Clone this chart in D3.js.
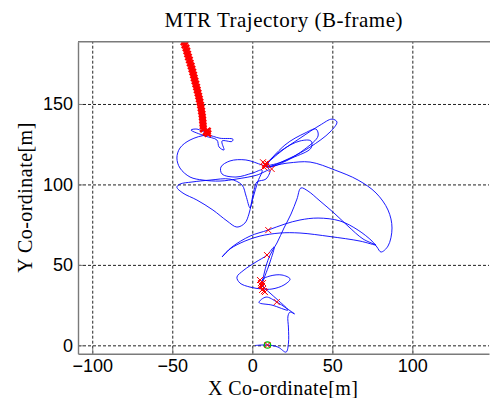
<!DOCTYPE html>
<html>
<head>
<meta charset="utf-8">
<script src="https://cdn.jsdelivr.net/npm/d3@7"></script>
<style>
    body { margin: 0; background: #fff; }
</style>
</head>
<body>
<script>
    const WIDTH = 490, HEIGHT = 398;
    const LEFT = 78, RIGHT = 489, TOP = 41.7, BOTTOM = 353.7;

    const AXIS_COLOR = '#7a7a7a';
    const GRID_COLOR = '#222';
    const LINE_COLOR = '#0000ff';
    const MARK_COLOR = '#ff0000';
    const START_COLOR = '#00c000';

    const X_DOMAIN = [-108.9, 147.9];
    const Y_DOMAIN = [-5.2, 188.7];
    const X_TICKS = [-100, -50, 0, 50, 100];
    const Y_TICKS = [0, 50, 100, 150];

    const TITLE = 'MTR Trajectory (B-frame)';
    const X_LABEL = 'X Co-ordinate[m]';
    const Y_LABEL = 'Y Co-ordinate[m]';

    // estimated vehicle positions [x, y] in metres, start -> end
    const trajectory = [
        [1.7, -0.1], [6.1, 0.2], [9.8, 0.2], [16.1, -1.1], [21.1, -4.2], [22.6, 1.4],
        [22.6, 10.8], [22.3, 18.2], [23.6, 20.7], [26.4, 19.5], [21.1, 23.2], [15.4, 26.9],
        [8.6, 30.0], [4.2, 26.6], [12.3, 25.0], [22.3, 21.9], [16.7, 27.5], [10.4, 33.1],
        [6.7, 36.9], [6.1, 40.6], [11.1, 43.1], [18.6, 43.7], [23.6, 41.2], [19.8, 37.5],
        [12.3, 35.0], [6.1, 35.0], [-1.4, 36.2], [-7.7, 38.7], [-9.6, 42.4], [-5.2, 46.8],
        [2.3, 51.8], [9.2, 56.1], [13.6, 61.1], [11.1, 51.8], [7.9, 43.1], [6.1, 38.1],
        [8.6, 49.3], [11.1, 56.1], [15.4, 63.6], [19.8, 72.9], [24.2, 81.6], [27.9, 90.9],
        [30.4, 97.8], [34.8, 95.9], [42.3, 89.7], [51.1, 82.2], [59.8, 74.1], [69.2, 66.1],
        [77.3, 62.3], [67.3, 64.8], [48.6, 67.6], [29.8, 69.8], [17.3, 69.8], [4.8, 67.9],
        [-4.6, 64.8], [-13.9, 59.9], [-18.9, 54.9], [-12.7, 61.1], [-1.4, 67.9], [9.8, 71.6],
        [20.4, 75.4], [29.8, 77.9], [41.1, 79.1], [54.8, 77.3], [66.1, 71.6], [74.8, 64.8],
        [77.9, 61.1], [80.4, 58.0], [84.8, 61.7], [87.3, 72.9], [84.8, 84.1], [77.3, 94.7],
        [66.1, 102.7], [51.7, 108.9], [36.1, 113.9], [22.3, 113.3], [8.6, 111.4],
        [17.3, 120.0], [29.8, 128.7], [42.3, 136.8], [49.8, 140.6], [52.9, 138.8], [48.6, 132.6],
        [36.1, 123.2], [22.3, 115.8], [8.6, 110.8], [20.4, 124.5], [32.9, 131.9], [39.8, 134.4],
        [41.1, 130.1], [32.9, 122.0], [20.4, 114.6], [8.6, 112.1], [18.6, 121.4], [29.8, 127.0],
        [36.7, 127.0], [36.7, 122.6], [24.8, 116.4], [11.1, 110.8],
        [6.1, 112.1], [-4.0, 115.2], [-13.9, 114.6], [-19.6, 110.8], [-18.9, 106.5], [-10.2, 104.6],
        [0.2, 107.1], [6.1, 108.9], [3.6, 102.1], [0.4, 91.5], [-1.4, 85.4], [-3.9, 92.8],
        [-6.4, 99.6], [-13.9, 103.3], [-26.4, 102.7], [-37.7, 101.5], [-45.2, 100.2], [-47.1, 98.3],
        [-43.3, 94.6], [-34.6, 90.3], [-24.6, 84.1], [-15.8, 77.3], [-9.6, 73.5], [-4.6, 76.0],
        [-2.1, 81.6], [-0.8, 87.2], [1.1, 96.5], [2.9, 101.5], [8.6, 103.4], [11.1, 109.0],
        [2.9, 105.8], [-9.6, 103.4], [-20.2, 102.1], [-30.8, 102.7], [-38.9, 104.6], [-45.2, 110.2],
        [-47.1, 116.4], [-45.2, 122.6], [-38.9, 127.6], [-28.3, 130.6],
        [-20.2, 128.7], [-12.1, 128.1], [-12.7, 126.7], [-18.9, 127.0], [-17.7, 121.4], [-20.8, 123.3],
        [-22.1, 127.6], [-29.6, 130.1], [-38.3, 133.8], [-34.6, 134.4], [-29.0, 132.0],
        [-31.9, 135.0], [-32.3, 141.3], [-33.0, 149.0], [-34.1, 156.0], [-35.6, 163.5],
        [-37.5, 171.0], [-39.8, 178.5], [-42.3, 185.5], [-44.2, 190.0]
    ];

    // dense estimates along the final leg
    const trailMarks = [
        [-42.7, 188.5], [-42.1, 186.6], [-41.4, 184.8], [-40.9, 182.9], [-40.4, 181.0],
        [-39.9, 179.2], [-39.3, 177.3], [-38.8, 175.4], [-38.2, 173.6], [-37.7, 171.7],
        [-37.2, 169.9], [-36.7, 168.0], [-36.3, 166.1], [-35.8, 164.3], [-35.3, 162.4],
        [-34.8, 160.5], [-34.4, 158.7], [-33.9, 156.8], [-33.5, 154.9], [-33.1, 153.1],
        [-32.7, 151.2], [-32.3, 149.3], [-32.0, 147.5], [-31.7, 145.6], [-31.4, 143.7],
        [-31.2, 141.9], [-31.0, 140.0], [-30.8, 138.2], [-30.7, 136.3], [-30.6, 134.4],
        [-28.9, 132.6], [-27.7, 131.6], [-28.0, 133.2]
    ];

    // other estimates along the way
    const stopMarks = [
        [6.7, 113.8], [7.9, 112.1], [9.2, 113.3], [7.3, 110.8], [8.6, 111.4], [8.0, 112.8],
        [12.1, 109.6], [9.2, 56.1], [10.0, 71.6], [15.3, 26.9],
        [4.8, 40.6], [5.4, 38.7], [6.1, 36.9], [6.7, 35.0], [7.3, 33.7], [5.4, 37.5],
        [6.7, 38.7], [6.1, 34.4], [7.9, 33.1], [9.5, 0.2]
    ];

    const start = [9.5, 0.2];

    const svg = d3.select('body').append('svg')
        .attr('width', WIDTH)
        .attr('height', HEIGHT);

    const x = d3.scaleLinear().domain(X_DOMAIN).range([LEFT, RIGHT]);
    const y = d3.scaleLinear().domain(Y_DOMAIN).range([BOTTOM, TOP]);

    svg.append('clipPath').attr('id', 'plot-clip')
        .append('rect')
        .attr('x', LEFT).attr('y', TOP)
        .attr('width', RIGHT - LEFT).attr('height', BOTTOM - TOP);

    // grid
    const gridX = svg.append('g')
        .attr('transform', 'translate(0,' + BOTTOM + ')')
        .call(d3.axisBottom(x).tickValues(X_TICKS).tickSize(-(BOTTOM - TOP)).tickFormat(''));
    const gridY = svg.append('g')
        .attr('transform', 'translate(' + LEFT + ',0)')
        .call(d3.axisLeft(y).tickValues(Y_TICKS).tickSize(-(RIGHT - LEFT)).tickFormat(''));
    [gridX, gridY].forEach(function(g) {
        g.select('.domain').remove();
        g.selectAll('line')
            .attr('stroke', GRID_COLOR)
            .attr('stroke-width', 1)
            .attr('stroke-dasharray', '3,2');
    });

    // trajectory
    const plot = svg.append('g').attr('clip-path', 'url(#plot-clip)');
    const line = d3.line()
        .x(function(d) { return x(d[0]); })
        .y(function(d) { return y(d[1]); })
        .curve(d3.curveCatmullRom.alpha(0.5));

    plot.append('path')
        .datum(trajectory)
        .attr('d', line)
        .attr('fill', 'none')
        .attr('stroke', LINE_COLOR)
        .attr('stroke-width', 0.9);

    plot.append('circle')
        .attr('cx', x(start[0]))
        .attr('cy', y(start[1]))
        .attr('r', 3.2)
        .attr('fill', 'none')
        .attr('stroke', START_COLOR)
        .attr('stroke-width', 1.2);

    function cross(s) {
        return 'M' + (-s) + ',' + (-s) + 'L' + s + ',' + s + 'M' + (-s) + ',' + s + 'L' + s + ',' + (-s);
    }

    plot.selectAll('.trail')
        .data(trailMarks)
        .enter()
        .append('path')
        .attr('class', 'trail')
        .attr('d', cross(3.1))
        .attr('transform', function(d) { return 'translate(' + x(d[0]) + ',' + y(d[1]) + ')'; })
        .attr('stroke', MARK_COLOR)
        .attr('stroke-width', 2.4);

    plot.selectAll('.stop')
        .data(stopMarks)
        .enter()
        .append('path')
        .attr('class', 'stop')
        .attr('d', cross(3))
        .attr('transform', function(d) { return 'translate(' + x(d[0]) + ',' + y(d[1]) + ')'; })
        .attr('stroke', MARK_COLOR)
        .attr('stroke-width', 1);

    // axes
    const xAxis = svg.append('g')
        .attr('transform', 'translate(0,' + BOTTOM + ')')
        .call(d3.axisBottom(x).tickValues(X_TICKS).tickSizeInner(-5).tickSizeOuter(0).tickPadding(6));
    const yAxis = svg.append('g')
        .attr('transform', 'translate(' + LEFT + ',0)')
        .call(d3.axisLeft(y).tickValues(Y_TICKS).tickSizeInner(-5).tickSizeOuter(0).tickPadding(5));
    [xAxis, yAxis].forEach(function(g) {
        g.select('.domain').attr('stroke', AXIS_COLOR).attr('stroke-width', 1.4);
        g.selectAll('line').attr('stroke', AXIS_COLOR);
        g.selectAll('text')
            .attr('fill', '#000')
            .style('font-family', '"Liberation Sans", Arial, sans-serif')
            .style('font-size', '18px');
    });

    svg.append('line')
        .attr('x1', LEFT).attr('x2', WIDTH)
        .attr('y1', TOP).attr('y2', TOP)
        .attr('stroke', AXIS_COLOR)
        .attr('stroke-width', 1.4);

    // labels
    const serif = '"Liberation Serif", "Times New Roman", serif';
    svg.append('text')
        .attr('x', 283.5).attr('y', 26.7)
        .attr('text-anchor', 'middle')
        .attr('textLength', 238)
        .attr('lengthAdjust', 'spacing')
        .style('font-family', serif)
        .style('font-size', '21px')
        .text(TITLE);
    svg.append('text')
        .attr('x', 283).attr('y', 394.5)
        .attr('text-anchor', 'middle')
        .attr('textLength', 150)
        .attr('lengthAdjust', 'spacing')
        .style('font-family', serif)
        .style('font-size', '20px')
        .text(X_LABEL);
    svg.append('text')
        .attr('transform', 'translate(32,' + ((TOP + BOTTOM) / 2) + ') rotate(-90)')
        .attr('text-anchor', 'middle')
        .attr('textLength', 150)
        .attr('lengthAdjust', 'spacing')
        .style('font-family', serif)
        .style('font-size', '20px')
        .text(Y_LABEL);
</script>
</body>
</html>
